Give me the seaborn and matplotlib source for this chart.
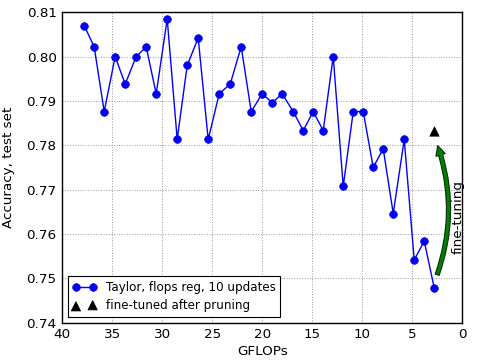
import numpy as np
import pandas as pd
import matplotlib
matplotlib.use('Agg')
import matplotlib.pyplot as plt
import seaborn as sns
from matplotlib.patches import FancyArrowPatch

# Data
gflops = [37.8, 36.8, 35.8, 34.7, 33.7, 32.6, 31.6, 30.6, 29.5, 28.5,
          27.5, 26.4, 25.4, 24.3, 23.2, 22.1, 21.1, 20.0, 19.0, 18.0,
          16.9, 15.9, 14.9, 13.9, 12.9, 11.9, 10.9, 9.9, 8.9, 7.9,
          6.9, 5.8, 4.8, 3.8, 2.8]
accuracy = [0.807, 0.8022, 0.7876, 0.800, 0.7938, 0.800, 0.8022, 0.7916, 0.8085, 0.7813,
            0.798, 0.8042, 0.7813, 0.7916, 0.7938, 0.8022, 0.7876, 0.7916, 0.7896, 0.7916,
            0.7876, 0.7833, 0.7876, 0.7833, 0.800, 0.7707, 0.7876, 0.7876, 0.775, 0.7792,
            0.7646, 0.7813, 0.7541, 0.7584, 0.7478]
finetuned_gflops = [2.8]
finetuned_acc = [0.7831]

x_ticks = [40, 35, 30, 25, 20, 15, 10, 5, 0]
y_ticks = [0.74, 0.75, 0.76, 0.77, 0.78, 0.79, 0.80, 0.81]
y_tick_labels = ['0.74', '0.75', '0.76', '0.77', '0.78', '0.79', '0.80', '0.81']

df = pd.DataFrame({'GFLOPs': gflops, 'acc': accuracy})

sns.set_style('whitegrid')
plt.rcParams['font.family'] = ['DejaVu Sans']
plt.rcParams['text.color'] = 'black'
plt.rcParams['axes.labelcolor'] = 'black'
plt.rcParams['xtick.color'] = 'black'
plt.rcParams['ytick.color'] = 'black'

fs = 9.7

fig = plt.figure(figsize=(4.82, 3.6), dpi=100)
ax = fig.add_axes([0.129, 0.104, 0.83, 0.862])

sns.lineplot(data=df, x='GFLOPs', y='acc', sort=False, color='#0000ff', lw=1,
             marker='o', markersize=5.5, markeredgecolor='#0000cc', markeredgewidth=0.5,
             label='Taylor, flops reg, 10 updates', ax=ax)
sns.scatterplot(x=finetuned_gflops, y=finetuned_acc, marker='^', color='black', s=45,
                edgecolor='black', label='fine-tuned after pruning', ax=ax)

ax.set_xlim(40, 0)
ax.set_ylim(0.74, 0.81)
ax.set_xticks(x_ticks)
ax.set_yticks(y_ticks, labels=y_tick_labels)
ax.tick_params(labelsize=fs, direction='in', length=3, width=0.5, pad=4)
ax.set_xlabel('GFLOPs', fontsize=fs, labelpad=3)
ax.set_ylabel('Accuracy, test set', fontsize=fs, labelpad=8)

ax.grid(True, color='#999999', linestyle=':', linewidth=0.7)
for s in ax.spines.values():
    s.set_color('black')
    s.set_linewidth(1)

# curved fine-tuning arrow
arrow = FancyArrowPatch((2.6, 0.7502), (2.55, 0.7805),
                        connectionstyle='arc3,rad=0.18',
                        arrowstyle='simple,head_width=7,head_length=7,tail_width=3',
                        facecolor='#008000', edgecolor='#0a2a0a', lw=0.8)
ax.add_patch(arrow)
ax.text(0.4, 0.7638, 'fine-tuning', rotation=90, fontsize=fs,
        ha='center', va='center')

handles, labels = ax.get_legend_handles_labels()
leg = ax.legend(handles, labels, loc='lower left', fontsize=8.6, frameon=True,
                fancybox=False, framealpha=1, edgecolor='black', borderaxespad=0.45,
                handlelength=2, numpoints=2, scatterpoints=2, borderpad=0.4,
                labelspacing=0.45)
leg.get_frame().set_linewidth(0.8)

fig.savefig('out.png', dpi=100)
